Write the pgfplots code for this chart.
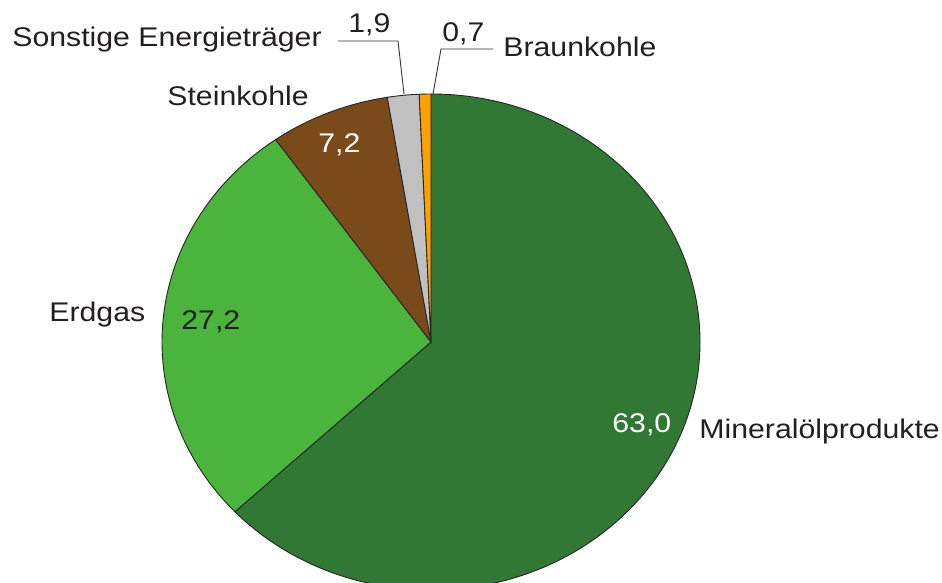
\documentclass[border=0pt]{standalone}
\usepackage{pgfplots}
\pgfplotsset{compat=1.18}
\usepackage{pgfplotstable}
\usepackage{fontspec}
\setmainfont{Liberation Sans}[FakeStretch=1.12]

\definecolor{cMin}{HTML}{307834}
\definecolor{cErd}{HTML}{4BB43C}
\definecolor{cStein}{HTML}{7B4A1B}
\definecolor{cSonst}{HTML}{C0C0C0}
\definecolor{cBraun}{HTML}{FFA000}
\definecolor{txt}{HTML}{231F20}

% shares in percent, clockwise from 12 o'clock
\pgfplotstableread{
value color
63.0 cMin
27.2 cErd
7.2 cStein
1.9 cSonst
0.7 cBraun
}\piedata

\begin{document}
\begin{tikzpicture}
\begin{axis}[
    name=ax,
    scale only axis,
    width=471bp, height=291.5bp,
    xmin=0, xmax=942, ymin=0, ymax=583,
    hide axis,
    clip=true,
]
\def\a{0}
\pgfplotsforeachungrouped \i in {0,...,4}{%
  \pgfplotstablegetelem{\i}{value}\of\piedata \let\v\pgfplotsretval
  \pgfplotstablegetelem{\i}{color}\of\piedata \let\c\pgfplotsretval
  \pgfmathsetmacro\b{\a+\v}%
  \edef\cmd{\noexpand\filldraw[fill=\c, draw=black!85, line width=0.45bp]
    (axis cs:431,241) -- ([shift={({90-3.6*\a}:134.5bp and 124bp)}]axis cs:431,241)
    arc[start angle={90-3.6*\a}, end angle={90-3.6*\b}, x radius=134.5bp, y radius=124bp] -- cycle;}%
  \cmd
  \let\a\b
}

% leader lines
\draw[black!80, line width=0.45bp] (axis cs:338,542) -- (axis cs:398,542) -- (axis cs:404,489);
\draw[black!80, line width=0.45bp] (axis cs:493,534) -- (axis cs:441,534) -- (axis cs:433,489);

\begin{scope}[every node/.style={inner sep=0pt, anchor=base west, text=txt,
    font=\fontsize{13.5bp}{16bp}\selectfont}]
\node at (axis cs:12,536) {Sonstige Energieträger};
\node at (axis cs:348,550) {1,9};
\node at (axis cs:442,541) {0,7};
\node at (axis cs:503,526) {Braunkohle};
\node at (axis cs:167,477) {Steinkohle};
\node[text=white] at (axis cs:318,430) {7,2};
\node at (axis cs:49,261) {Erdgas};
\node at (axis cs:181,253) {27,2};
\node[text=white] at (axis cs:612,150) {63,0};
\node at (axis cs:699,144) {Mineralölprodukte};
\end{scope}
\end{axis}
\pgfresetboundingbox
\path[use as bounding box] (ax.south west) rectangle (ax.north east);
\end{tikzpicture}
\end{document}
